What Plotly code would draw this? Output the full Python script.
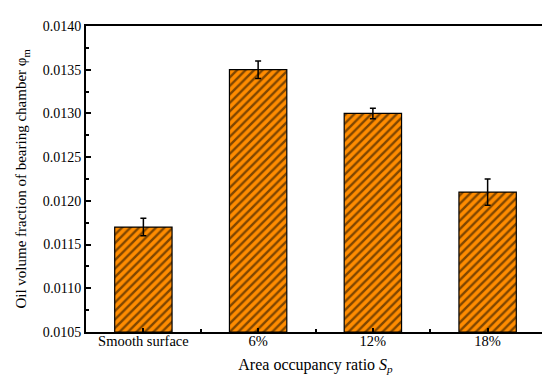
import plotly.graph_objects as go

categories = ["Smooth surface", "6%", "12%", "18%"]
values = [0.0117, 0.0135, 0.0130, 0.0121]
errors = [0.0001, 0.0001, 0.00006, 0.00015]
xpos = list(range(len(categories)))
y_floor = 0.0105

FONT = "Liberation Serif"

fig = go.Figure()
fig.add_trace(go.Bar(
    x=xpos, y=[v - y_floor for v in values], width=0.5,
    base=y_floor,
    marker=dict(color="#FF8C00", line=dict(color="black", width=1.2),
                pattern=dict(shape="/", fgcolor="black", bgcolor="#FF8C00", size=6, solidity=0.4)),
    error_y=dict(type="data", array=errors, visible=True, color="black", thickness=1.5, width=3),
))

fig.update_layout(
    width=550, height=383,
    margin=dict(l=78, r=11, t=13, b=59),
    plot_bgcolor="white", paper_bgcolor="white",
    showlegend=False,
    font=dict(family=FONT, size=14, color="black"),
)
fig.update_xaxes(
    range=[-0.5, 3.5], tickvals=xpos, ticktext=categories,
    showline=True, linecolor="black", linewidth=2, mirror=True,
    ticks="inside", ticklen=4, tickwidth=1.5, tickcolor="black",
    minor=dict(tickvals=[0.5, 1.5, 2.5], ticks="inside", ticklen=3, tickwidth=1.5, tickcolor="black"),
    showgrid=False, zeroline=False,
    ticklabelstandoff=-5,
    title=dict(text="Area occupancy ratio <i>S</i><sub><i>p</i></sub>", font=dict(family=FONT, size=16), standoff=10),
    tickfont=dict(family=FONT, size=14.5),
)
fig.update_yaxes(
    range=[0.0105, 0.0140], dtick=0.0005, tick0=0.0105, tickformat=".4f",
    showline=True, linecolor="black", linewidth=2, mirror=True,
    ticks="inside", ticklen=5, tickwidth=1.5, tickcolor="black",
    minor=dict(dtick=0.00025, ticks="inside", ticklen=3, tickwidth=1.5, tickcolor="black"),
    showgrid=False, zeroline=False,
    title=dict(text="Oil volume fraction of bearing chamber φ<sub>m</sub>", font=dict(family=FONT, size=15), standoff=12),
    tickfont=dict(family=FONT, size=14),
)

fig.write_html("out.html")
